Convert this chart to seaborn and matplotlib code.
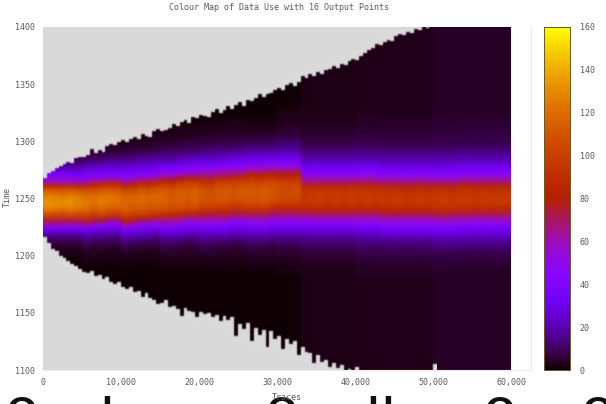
import numpy as np
import matplotlib
matplotlib.use("Agg")
import matplotlib.pyplot as plt
from matplotlib.colors import ListedColormap
import seaborn as sns

title = "Colour Map of Data Use with 16 Output Points"
x_tick_labels = ["0", "10,000", "20,000", "30,000", "40,000", "50,000", "60,000"]
y_tick_labels = ["1100", "1150", "1200", "1250", "1300", "1350", "1400"]
cbar_ticks = [0, 20, 40, 60, 80, 100, 120, 140, 160]

# Band profiles: value at Time = 1170, 1175, ... 1330, read at each station (traces)
stations = [0, 5000, 10000, 15000, 20000, 26000, 30000, 33000, 40000, 50000]
station_centres = [1243, 1243, 1246, 1250, 1253, 1256, 1256, 1250, 1250, 1250]
profile_0 = [1,1,1,1,1,1,2,3,6,12,24,45,72,103,122,130,128,116,88,56,36,22,13,7,4,2,1,1,1,1,1,1,1]
profile_5k = [1,1,1,1,1,2,3,5,9,15,27,47,76,103,118,124,122,112,86,56,38,25,16,9,5,3,2,1,1,1,1,1,1]
profile_10k = [1,1,1,1,1,2,3,6,10,18,31,51,78,102,113,118,117,108,85,58,40,28,19,12,7,4,3,2,1,1,1,1,1]
profile_15k = [1,1,1,1,2,2,4,6,10,17,28,44,63,87,106,112,114,112,102,80,55,38,26,17,11,7,4,3,2,1,1,1,1]
profile_20k = [1,1,1,1,2,3,4,6,10,17,27,40,57,75,94,106,110,110,104,88,66,46,32,22,14,9,6,4,3,2,1,1,1]
profile_26k = [1,1,1,1,2,3,4,6,10,16,25,37,52,71,90,105,111,112,110,100,82,58,41,28,19,12,8,5,3,2,1,1,1]
profile_30k = [1,1,1,2,2,3,5,7,11,16,25,36,51,69,86,99,105,106,104,94,78,56,40,28,19,13,9,6,4,3,2,2,1]
profile_33k = [2,2,2,3,3,4,6,8,11,16,24,35,50,68,84,94,97,95,86,66,48,35,25,18,13,9,7,5,4,3,3,2,2]
profile_40k = [3,3,3,4,4,5,7,9,12,18,26,37,51,68,83,93,96,94,86,67,49,36,26,19,14,10,8,6,5,4,4,3,3]
profile_50k = [4,4,4,4,5,6,8,10,14,20,28,39,53,70,85,95,97,94,84,66,48,35,26,19,14,10,8,7,6,5,5,4,4]
profiles = [profile_0, profile_5k, profile_10k, profile_15k, profile_20k,
            profile_26k, profile_30k, profile_33k, profile_40k, profile_50k]
background_low = [1, 1, 1, 1, 1, 1, 1, 2, 3, 4]
background_high = [1, 1, 1, 1, 1, 1, 1, 2, 3, 4]

# Centre of the hot band per 1000 traces
band_centre = [1243,1243,1243,1243,1243,1243,1244,1244,1245,1245,1246,1247,1248,1248,1249,1250,1250,1251,1252,1252,
               1253,1253,1254,1254,1255,1255,1256,1256,1256,1257,1257,1257,1257,1250,1250,1250,1250,1250,1250,1250,
               1250,1250,1250,1249,1249,1249,1249,1249,1249,1249,1249,1249,1249,1250,1250,1250,1250,1250,1250,1250]

# Upper and lower edges of the populated region, every 500 traces up to 60,000
top_edge = [1268,1272,1274,1277,1278,1280,1282,1281,1285,1286,1286,1288,1293,1290,1292,1291,1296,1298,1297,1299,
            1301,1299,1302,1304,1302,1306,1305,1304,1309,1311,1309,1310,1312,1315,1313,1317,1319,1316,1321,1320,
            1323,1322,1321,1326,1328,1325,1327,1331,1328,1332,1334,1331,1336,1335,1338,1341,1339,1341,1342,1345,
            1347,1345,1349,1351,1348,1352,1357,1355,1359,1357,1361,1359,1362,1363,1366,1364,1368,1367,1370,1372,
            1371,1375,1377,1380,1382,1385,1384,1387,1389,1388,1392,1394,1393,1396,1395,1398,1397,1400,1399,1400,
            1400,1400,1400,1400,1400,1400,1400,1400,1400,1400,1400,1400,1400,1400,1400,1400,1400,1400,1400,1400]
bottom_edge = [1216,1211,1206,1204,1200,1198,1195,1193,1191,1188,1186,1185,1187,1182,1183,1180,1181,1177,1175,1177,
               1173,1171,1173,1168,1169,1164,1167,1163,1161,1158,1159,1161,1155,1156,1153,1147,1154,1152,1151,1146,
               1151,1149,1150,1146,1148,1143,1147,1144,1146,1130,1140,1136,1141,1125,1137,1131,1135,1120,1134,1127,
               1130,1118,1127,1123,1125,1113,1120,1116,1115,1106,1113,1107,1109,1103,1106,1102,1104,1100,1101,1100,
               1103,1100,1100,1100,1100,1100,1100,1100,1100,1100,1100,1100,1100,1100,1100,1100,1100,1100,1100,1100,
               1105,1100,1100,1100,1100,1100,1100,1100,1100,1100,1100,1100,1100,1100,1100,1100,1100,1100,1100,1100]
# Vertical streak strength per 1000 traces
streaks = [1.02,1.01,1.0,1.015,0.99,1.005,0.985,1.015,1.0,0.985,1.01,0.995,1.015,0.99,1.0,1.02,0.985,1.005,0.99,1.015,
           1.0,0.985,1.01,1.02,0.995,1.015,1.0,0.99,1.01,0.985,1.005,0.995,1.01,0.985,1.0,1.015,0.99,1.005,0.985,1.01,
           1.0,1.015,0.99,1.005,0.995,1.015,0.985,1.0,1.01,0.99,1.005,1.015,0.99,1.0,1.01,0.985,1.005,0.995,1.01,1.0]

# Assemble the Time x Traces table from the values above
n_cols, n_rows = len(top_edge), 300
values = np.zeros((n_rows, n_cols))
outside = np.ones((n_rows, n_cols), dtype=bool)
for c in range(n_cols):
    s = np.searchsorted(stations, c * 500, side="right") - 1
    col = np.full(n_rows, float(background_low[s]))
    col[200:] = background_high[s]
    shift = band_centre[c // 2] - station_centres[s]
    for k, v in enumerate(profiles[s]):
        mid = 70 + k * 5 + shift
        col[mid - 2 : mid + 3] = v
    values[:, c] = col * streaks[c // 2]
    outside[bottom_edge[c] - 1100 : top_edge[c] - 1100, c] = False


def make_soft(sig_y, sig_x):
    def soft(img, dpi):
        out = img.copy()
        for axis, sigma in ((0, sig_y), (1, sig_x)):
            r = np.arange(-6, 7)
            w = np.exp(-r ** 2 / (2 * sigma ** 2))
            w /= w.sum()
            pad = [(6, 6) if a == axis else (0, 0) for a in range(3)]
            p = np.pad(out, pad, mode="edge")
            out = np.apply_along_axis(lambda m: np.convolve(m, w, mode="valid"), axis, p)
        return out, 0, 0
    return soft


sns.set_theme(style="white")
plt.rcParams["font.family"] = "DejaVu Sans Mono"
grey = "#5a5a5a"
W, H = 606, 404
fig = plt.figure(figsize=(W / 100, H / 100), dpi=100)
ax = fig.add_axes([43 / W, 1 - 370 / H, (531 - 43) / W, (370 - 27) / H])
cax = fig.add_axes([544 / W, 1 - 370 / H, 26 / W, (370 - 27) / H])

sns.heatmap(values, cmap="gnuplot", vmin=0, vmax=160, ax=ax, cbar_ax=cax,
            xticklabels=False, yticklabels=False, cbar_kws={"ticks": cbar_ticks})
ax.collections[0].set_agg_filter(make_soft(2.2, 1.5))
sns.heatmap(np.ones_like(values), mask=~outside, cmap=ListedColormap(["#dcdcdc"]), cbar=False,
            ax=ax, xticklabels=False, yticklabels=False)
ax.collections[1].set_agg_filter(make_soft(0.8, 0.7))
ax.set_xlim(0, 125)
ax.set_ylim(0, 300)
ax.set_xticks(np.arange(0, 121, 20))
ax.set_xticklabels(x_tick_labels)
ax.set_yticks(np.arange(0, 301, 50))
ax.set_yticklabels(y_tick_labels, rotation=0)
ax.tick_params(axis="both", labelsize=6, colors=grey, length=0)
ax.tick_params(axis="x", pad=6)
ax.tick_params(axis="y", pad=6)
for name, sp in ax.spines.items():
    sp.set_visible(name in ("right", "bottom"))
    sp.set_color("#ececec")
    sp.set_linewidth(0.8)

cax.tick_params(axis="y", labelsize=6, labelcolor=grey, left=True, right=True, direction="in",
                length=3, width=0.6, color="#40200a", pad=7)
for sp in cax.spines.values():
    sp.set_visible(True)
    sp.set_color("#6b5a20")
    sp.set_linewidth(0.6)

fig.text(279 / W, 1 - 8 / H, title, ha="center", va="center", fontsize=6, color=grey)
fig.text(287 / W, 1 - 398 / H, "Traces", ha="center", va="center", fontsize=6, color=grey, zorder=5)
fig.text(7 / W, 1 - 197 / H, "Time", ha="center", va="center", rotation=90, fontsize=6, color=grey)

# Tops of the large caption line that the reference crops at its lower edge
for ch, px in [("O", 22), ("l", 107), ("O", 281), ("l", 373), ("l", 388), ("O", 500), ("O", 597)]:
    fig.text(px / W, -20 / H, ch, ha="center", va="baseline", fontsize=28, color="#111111",
             family="Liberation Sans", weight="bold", zorder=4)

fig.savefig("out.png", dpi=100)
